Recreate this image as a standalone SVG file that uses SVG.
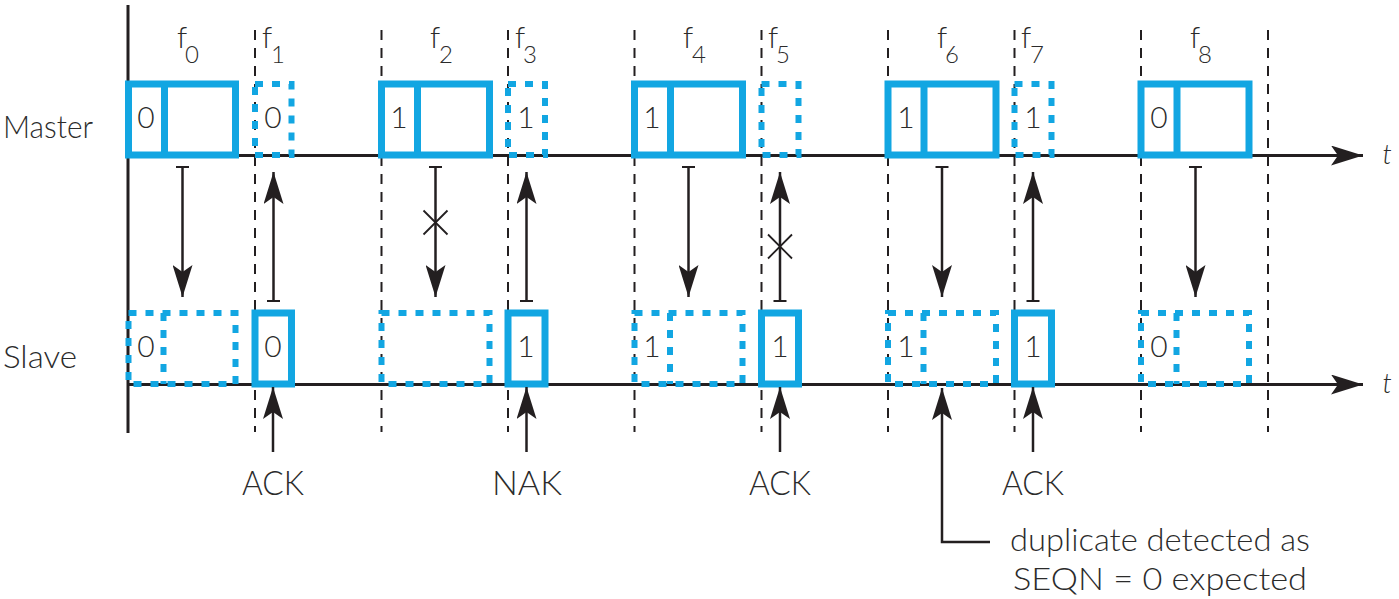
<svg xmlns="http://www.w3.org/2000/svg" width="1399" height="599" viewBox="0 0 1399 599">
<style>
.ax{stroke:#231f20;stroke-width:3;fill:none}
.dl{stroke:#231f20;stroke-width:2;stroke-dasharray:10 8;fill:none}
.sb{stroke:#12a6e2;stroke-width:7;fill:none;stroke-linejoin:miter}
.db{stroke:#12a6e2;stroke-width:6;fill:none;stroke-dasharray:8 9}
.ar{stroke:#231f20;stroke-width:2.5;fill:none}
.tb{stroke:#231f20;stroke-width:2;fill:none}
.x{stroke:#231f20;stroke-width:1.8;fill:none}
text{font-family:Lato,"Liberation Sans",sans-serif;font-weight:300;fill:#2b2b2b}
.lbl{font-size:32px}
.fl{font-size:30px}
.fs{font-size:24px}
.dg{font-size:30px;text-anchor:middle}
.ak{font-size:33px;text-anchor:middle}
.nt{font-size:31px}
.t{font-size:27px;font-style:italic;text-anchor:middle}
</style>
<defs>
<marker id="ah" viewBox="-32 -10 33 20" markerWidth="33" markerHeight="20" refX="0" refY="0" orient="auto" markerUnits="userSpaceOnUse">
<path d="M0,0 L-32,-10 L-25,0 L-32,10 Z" fill="#231f20"/>
</marker>
</defs>

<g id="axes">
<line class="ax" x1="128" y1="5" x2="128" y2="433"/>
<line class="ax" x1="128" y1="155.5" x2="1363" y2="155.5" marker-end="url(#ah)"/>
<line class="ax" x1="128" y1="384.5" x2="1363" y2="384.5" marker-end="url(#ah)"/>
<text class="t" x="1387" y="164">t</text>
<text class="t" x="1387" y="393">t</text>
<text class="lbl" x="3" y="138" textLength="90" lengthAdjust="spacingAndGlyphs">Master</text>
<text class="lbl" x="3" y="368" textLength="74" lengthAdjust="spacingAndGlyphs">Slave</text>
</g>

<g id="slot-lines">
<line class="dl" x1="255" y1="30" x2="255" y2="432"/>
<line class="dl" x1="381.5" y1="30" x2="381.5" y2="432"/>
<line class="dl" x1="508" y1="30" x2="508" y2="432"/>
<line class="dl" x1="634.5" y1="30" x2="634.5" y2="432"/>
<line class="dl" x1="761.5" y1="30" x2="761.5" y2="432"/>
<line class="dl" x1="888" y1="30" x2="888" y2="432"/>
<line class="dl" x1="1014.5" y1="30" x2="1014.5" y2="432"/>
<line class="dl" x1="1141" y1="30" x2="1141" y2="432"/>
<line class="dl" x1="1268" y1="30" x2="1268" y2="432"/>
</g>

<g id="slot-labels">
<text class="fl" x="177" y="48">f</text><text class="fs" x="185" y="63">0</text>
<text class="fl" x="262" y="48">f</text><text class="fs" x="271" y="63">1</text>
<text class="fl" x="430" y="48">f</text><text class="fs" x="439" y="63">2</text>
<text class="fl" x="515" y="48">f</text><text class="fs" x="523" y="63">3</text>
<text class="fl" x="683" y="48">f</text><text class="fs" x="692" y="63">4</text>
<text class="fl" x="768" y="48">f</text><text class="fs" x="776" y="63">5</text>
<text class="fl" x="937" y="48">f</text><text class="fs" x="945" y="63">6</text>
<text class="fl" x="1021" y="48">f</text><text class="fs" x="1030" y="63">7</text>
<text class="fl" x="1190" y="48">f</text><text class="fs" x="1198" y="63">8</text>
</g>

<g id="master-f0"><rect class="sb" x="128.5" y="84" width="107" height="71"/><line class="sb" x1="164.5" y1="84" x2="164.5" y2="155"/><text class="dg" x="146" y="128">0</text></g>
<g id="master-f1"><rect class="db" x="255" y="84" width="36.5" height="71"/><text class="dg" x="273" y="128">0</text></g>
<g id="master-f2"><rect class="sb" x="381.5" y="84" width="108" height="71"/><line class="sb" x1="417.5" y1="84" x2="417.5" y2="155"/><text class="dg" x="399" y="128">1</text></g>
<g id="master-f3"><rect class="db" x="508" y="84" width="37" height="71"/><text class="dg" x="526" y="128">1</text></g>
<g id="master-f4"><rect class="sb" x="634.5" y="84" width="108" height="71"/><line class="sb" x1="670.5" y1="84" x2="670.5" y2="155"/><text class="dg" x="652" y="128">1</text></g>
<g id="master-f5"><rect class="db" x="761.5" y="84" width="37" height="71"/></g>
<g id="master-f6"><rect class="sb" x="888" y="84" width="108" height="71"/><line class="sb" x1="924" y1="84" x2="924" y2="155"/><text class="dg" x="906" y="128">1</text></g>
<g id="master-f7"><rect class="db" x="1014.5" y="84" width="37" height="71"/><text class="dg" x="1033" y="128">1</text></g>
<g id="master-f8"><rect class="sb" x="1141" y="84" width="108" height="71"/><line class="sb" x1="1177" y1="84" x2="1177" y2="155"/><text class="dg" x="1159" y="128">0</text></g>

<g id="slave-f0"><rect class="db" x="128.5" y="313" width="107" height="71"/><line class="db" x1="163.5" y1="313" x2="163.5" y2="384"/><text class="dg" x="146" y="357">0</text></g>
<g id="slave-f1"><rect class="sb" x="255" y="313" width="36.5" height="71"/><text class="dg" x="273" y="357">0</text></g>
<g id="slave-f2"><rect class="db" x="381.5" y="313" width="108" height="71"/></g>
<g id="slave-f3"><rect class="sb" x="508" y="313" width="37" height="71"/><text class="dg" x="526" y="357">1</text></g>
<g id="slave-f4"><rect class="db" x="634.5" y="313" width="108" height="71"/><line class="db" x1="670" y1="313" x2="670" y2="384"/><text class="dg" x="652" y="357">1</text></g>
<g id="slave-f5"><rect class="sb" x="761.5" y="313" width="37" height="71"/><text class="dg" x="780" y="357">1</text></g>
<g id="slave-f6"><rect class="db" x="888" y="313" width="108" height="71"/><line class="db" x1="923.5" y1="313" x2="923.5" y2="384"/><text class="dg" x="906" y="357">1</text></g>
<g id="slave-f7"><rect class="sb" x="1014.5" y="313" width="37" height="71"/><text class="dg" x="1033" y="357">1</text></g>
<g id="slave-f8"><rect class="db" x="1141" y="313" width="108" height="71"/><line class="db" x1="1176.5" y1="313" x2="1176.5" y2="384"/><text class="dg" x="1159" y="357">0</text></g>

<g id="connectors">
<line class="tb" x1="176" y1="167" x2="189" y2="167"/><line class="ar" x1="182.5" y1="167" x2="182.5" y2="297" marker-end="url(#ah)"/>
<line class="tb" x1="267" y1="301" x2="280" y2="301"/><line class="ar" x1="273.5" y1="301" x2="273.5" y2="172" marker-end="url(#ah)"/>
<line class="tb" x1="429" y1="167" x2="442" y2="167"/><line class="ar" x1="435.5" y1="167" x2="435.5" y2="297" marker-end="url(#ah)"/>
<path class="x" d="M423.5,210.5 L447.5,234.5 M447.5,210.5 L423.5,234.5"/>
<line class="tb" x1="520" y1="301" x2="533" y2="301"/><line class="ar" x1="526.5" y1="301" x2="526.5" y2="172" marker-end="url(#ah)"/>
<line class="tb" x1="682" y1="167" x2="695" y2="167"/><line class="ar" x1="688.5" y1="167" x2="688.5" y2="297" marker-end="url(#ah)"/>
<line class="tb" x1="773.5" y1="301" x2="786.5" y2="301"/><line class="ar" x1="780" y1="301" x2="780" y2="172" marker-end="url(#ah)"/>
<path class="x" d="M768,234.5 L792,258.5 M792,234.5 L768,258.5"/>
<line class="tb" x1="935.5" y1="167" x2="948.5" y2="167"/><line class="ar" x1="942" y1="167" x2="942" y2="297" marker-end="url(#ah)"/>
<line class="tb" x1="1026.5" y1="301" x2="1039.5" y2="301"/><line class="ar" x1="1033" y1="301" x2="1033" y2="172" marker-end="url(#ah)"/>
<line class="tb" x1="1189" y1="167" x2="1202" y2="167"/><line class="ar" x1="1195.5" y1="167" x2="1195.5" y2="297" marker-end="url(#ah)"/>
<line class="ar" x1="273" y1="452" x2="273" y2="387" marker-end="url(#ah)"/>
<line class="ar" x1="526.5" y1="452" x2="526.5" y2="387" marker-end="url(#ah)"/>
<line class="ar" x1="780" y1="452" x2="780" y2="387" marker-end="url(#ah)"/>
<line class="ar" x1="1033" y1="452" x2="1033" y2="387" marker-end="url(#ah)"/>
<path class="ar" d="M990,542 H942 V388" marker-end="url(#ah)"/>
</g>

<g id="annotations">
<text class="ak" x="273" y="495" textLength="62" lengthAdjust="spacingAndGlyphs">ACK</text>
<text class="ak" x="527" y="495" textLength="70" lengthAdjust="spacingAndGlyphs">NAK</text>
<text class="ak" x="780" y="495" textLength="62" lengthAdjust="spacingAndGlyphs">ACK</text>
<text class="ak" x="1033" y="495" textLength="62" lengthAdjust="spacingAndGlyphs">ACK</text>
<text class="nt" x="1010" y="551" textLength="300" lengthAdjust="spacingAndGlyphs">duplicate detected as</text>
<text class="nt" x="1013" y="590" textLength="294" lengthAdjust="spacingAndGlyphs">SEQN = 0 expected</text>
</g>
</svg>
